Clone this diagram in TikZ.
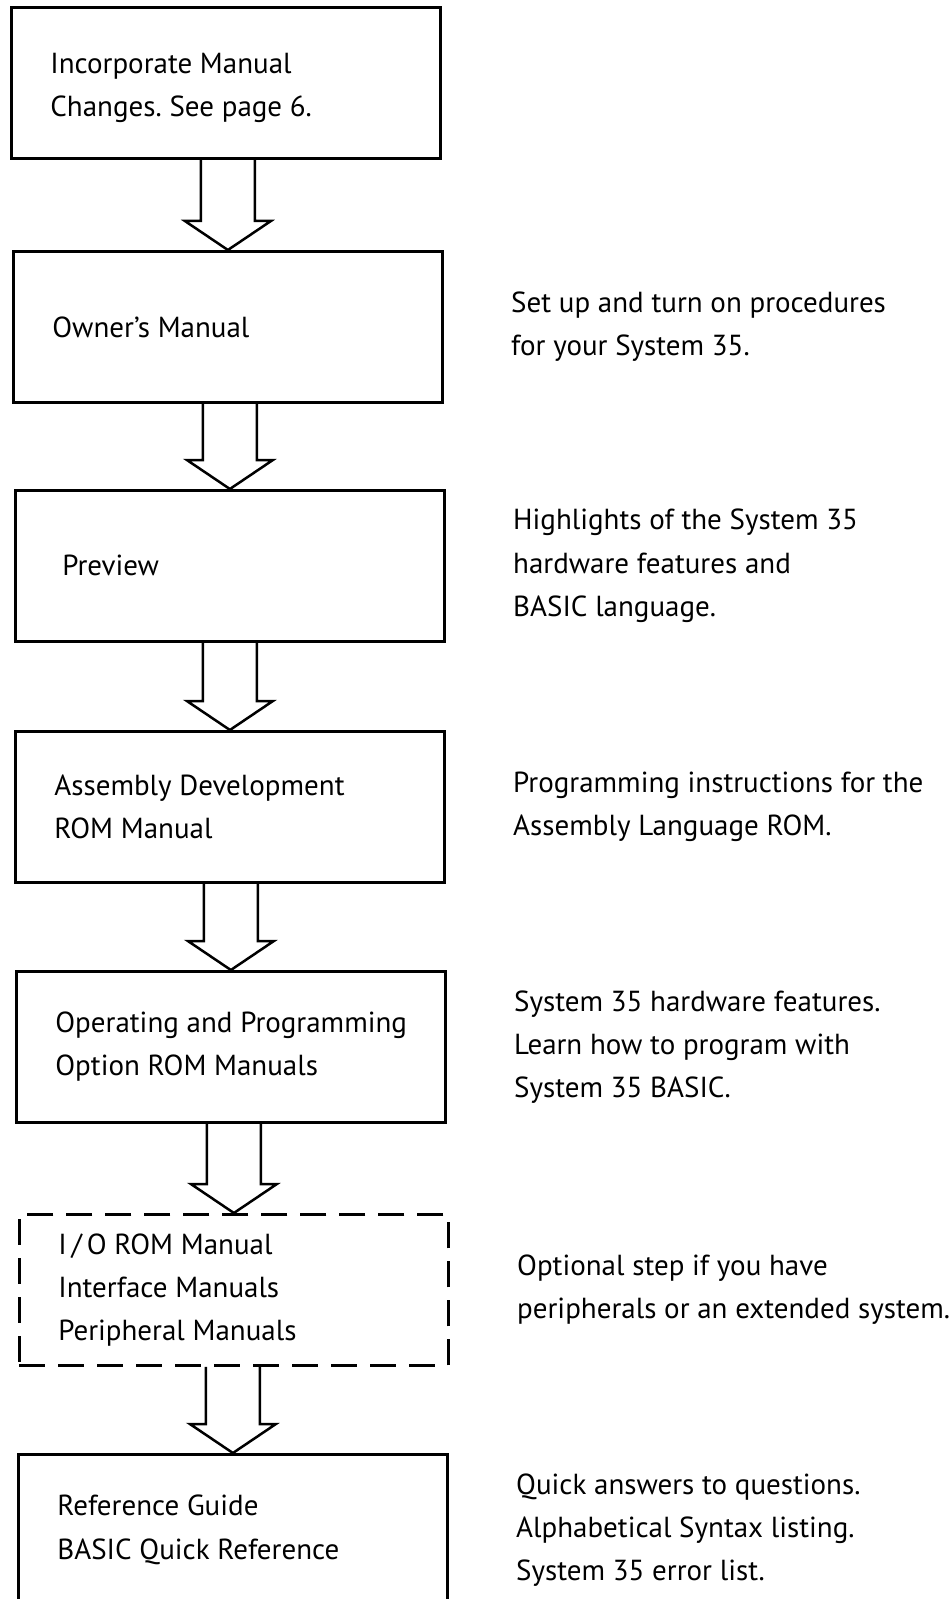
\documentclass[tikz,border=0pt]{standalone}
\usepackage{fontspec}
\setmainfont{PT Sans}
\usepackage{tikz}
\usetikzlibrary{positioning,calc}

% fat hollow arrow from the bottom of one box to the top of the next
\newcommand{\fatarrow}[2]{%
  \draw[arrow line] ($(#1.south -| #2.north)+(-27,0)$) -- ($(#2.north)+(-27,-29)$)
     -- ($(#2.north)+(-43,-29)$) -- (#2.north) -- ($(#2.north)+(43,-29)$)
     -- ($(#2.north)+(27,-29)$) -- ($(#1.south -| #2.north)+(27,0)$);}

\begin{document}
\begin{tikzpicture}[x=0.5pt,y=-0.5pt,node distance=33.5pt,
                    font=\fontsize{14.5}{21.6}\selectfont]
  \tikzstyle{manual}=[rectangle,draw,line width=1.4pt,anchor=north west,
                      minimum width=214.5pt,minimum height=75.5pt]
  \tikzstyle{optional manual}=[manual,dash pattern=on 13pt off 6.5pt]
  \tikzstyle{box text}=[anchor=west,align=left,inner sep=0pt,xshift=20pt]
  \tikzstyle{note}=[inner sep=0pt,align=left,anchor=west]
  \tikzstyle{arrow line}=[line width=1.25pt,line join=miter]

  \useasboundingbox (0,0) rectangle (948,1599);
  \clip (0,0) rectangle (948,1599);

  \node[manual,label={[box text,yshift=-2.5pt]west:Incorporate Manual\\Changes.\ See page 6.}]
        (incorp) at (10,6) {};
  \node[manual,label={[box text]west:Owner’s Manual}] (owner) at (12,250) {};
  \node[manual,label={[box text,xshift=4pt]west:Preview}] (preview) at (14,489) {};
  \node[manual,label={[box text]west:Assembly Development\\ROM Manual}] (asm) at (14,730) {};
  \node[manual,label={[box text]west:Operating and Programming\\Option ROM Manuals}] (oper) at (15,970) {};
  \node[optional manual,label={[box text]west:I\,/\,O ROM Manual\\Interface Manuals\\Peripheral Manuals}]
        (io) at (18,1213) {};
  \node[manual,label={[box text]west:Reference Guide\\BASIC Quick Reference}] (ref) at (17,1453) {};

  \node[note] (owner note)   [right=of owner]   {Set up and turn on procedures\\for your System 35.};
  \node[note] (preview note) [right=of preview] {Highlights of the System 35\\hardware features and\\BASIC language.};
  \node[note] (asm note)     [right=of asm]     {Programming instructions for the\\Assembly Language ROM.};
  \node[note] (oper note)    [right=of oper]    {System 35 hardware features.\\Learn how to program with\\System 35 BASIC.};
  \node[note] (io note)      [right=of io]      {Optional step if you have\\peripherals or an extended system.};
  \node[note] (ref note)     [right=of ref]     {Quick answers to questions.\\Alphabetical Syntax listing.\\System 35 error list.};

  \fatarrow{incorp}{owner}
  \fatarrow{owner}{preview}
  \fatarrow{preview}{asm}
  \fatarrow{asm}{oper}
  \fatarrow{oper}{io}
  \fatarrow{io}{ref}
\end{tikzpicture}
\end{document}
